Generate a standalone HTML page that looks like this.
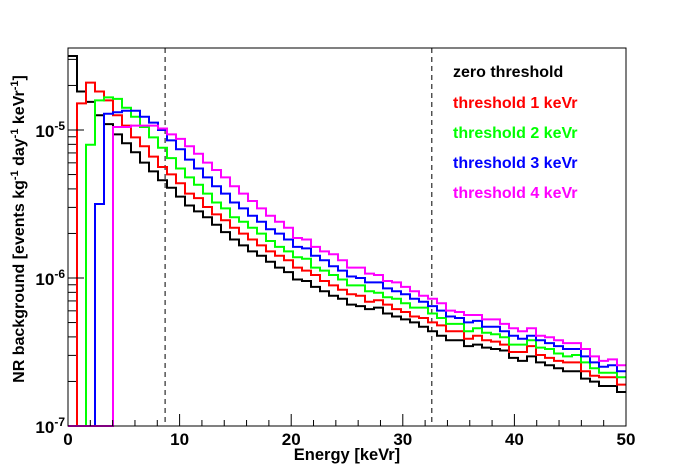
<!DOCTYPE html>
<html><head><meta charset="utf-8"><style>
html,body{margin:0;padding:0;background:#fff;}
svg{display:block;font-family:"Liberation Sans",Arial,sans-serif;}
</style></head><body>
<svg id="chart" width="696" height="472" viewBox="0 0 696 472">
<rect width="696" height="472" fill="#fff"/>
<g id="grid-lines"></g>
<g id="series"></g>
<g id="axes"></g>
<text x="8" y="0" transform="translate(24,237) rotate(-90)" text-anchor="middle" font-size="16" font-weight="bold">NR background [events kg<tspan dy="-6" font-size="11">-1</tspan><tspan dy="6"> day</tspan><tspan dy="-6" font-size="11">-1</tspan><tspan dy="6"> keVr</tspan><tspan dy="-6" font-size="11">-1</tspan><tspan dy="6">]</tspan></text>
<text x="347" y="460" text-anchor="middle" font-size="16.5" font-weight="bold">Energy [keVr]</text>
<g id="legend" font-size="16" font-weight="bold">
<text x="453" y="77" fill="#000">zero threshold</text>
<text x="453" y="108" fill="#ff0000">threshold 1 keVr</text>
<text x="453" y="138" fill="#00ff00">threshold 2 keVr</text>
<text x="453" y="168" fill="#0000ff">threshold 3 keVr</text>
<text x="453" y="198" fill="#ff00ff">threshold 4 keVr</text>
</g>
</svg>
<script>
// data: log10 of rate per bin (62 bins over 0-50 keVr); null = empty bin
const xMin = 0, xMax = 50, nBins = 62;
const xTicks = [0,10,20,30,40,50];
const yDecades = [-7,-6,-5];
const markerEnergies = [8.7, 32.6];
const logZero = [-4.50,-4.74,-4.81,-4.90,-4.96,-5.03,-5.09,-5.15,-5.22,-5.28,-5.34,-5.39,-5.45,-5.51,-5.55,-5.59,-5.64,-5.69,-5.74,-5.78,-5.82,-5.85,-5.89,-5.93,-5.96,-6.01,-6.02,-6.06,-6.09,-6.12,-6.14,-6.18,-6.19,-6.21,-6.20,-6.24,-6.26,-6.28,-6.30,-6.33,-6.36,-6.39,-6.42,-6.42,-6.46,-6.45,-6.47,-6.48,-6.49,-6.54,-6.56,-6.53,-6.57,-6.59,-6.61,-6.63,-6.63,-6.68,-6.70,-6.73,-6.73,-6.77];
const logThr1 = [null,-4.82,-4.68,-4.74,-4.80,-4.90,-4.97,-5.05,-5.11,-5.18,-5.25,-5.30,-5.36,-5.43,-5.46,-5.52,-5.57,-5.61,-5.66,-5.70,-5.74,-5.78,-5.82,-5.85,-5.88,-5.93,-5.95,-5.98,-6.02,-6.05,-6.08,-6.11,-6.12,-6.16,-6.15,-6.18,-6.21,-6.23,-6.26,-6.27,-6.30,-6.32,-6.36,-6.36,-6.41,-6.39,-6.42,-6.43,-6.45,-6.50,-6.50,-6.46,-6.52,-6.54,-6.56,-6.57,-6.57,-6.63,-6.66,-6.67,-6.67,-6.72];
const logThr2 = [null,null,-5.10,-4.80,-4.78,-4.79,-4.85,-4.91,-4.98,-5.05,-5.12,-5.19,-5.26,-5.32,-5.37,-5.43,-5.49,-5.53,-5.59,-5.62,-5.66,-5.70,-5.75,-5.79,-5.82,-5.86,-5.87,-5.93,-5.95,-5.98,-6.01,-6.05,-6.05,-6.09,-6.10,-6.13,-6.14,-6.17,-6.20,-6.20,-6.24,-6.27,-6.31,-6.31,-6.36,-6.34,-6.37,-6.38,-6.40,-6.45,-6.45,-6.42,-6.47,-6.48,-6.51,-6.53,-6.52,-6.57,-6.61,-6.64,-6.64,-6.67];
const logThr3 = [null,null,null,-5.50,-4.89,-4.88,-4.87,-4.87,-4.91,-4.95,-5.00,-5.07,-5.13,-5.20,-5.26,-5.32,-5.38,-5.43,-5.49,-5.53,-5.58,-5.62,-5.67,-5.70,-5.74,-5.79,-5.80,-5.85,-5.88,-5.92,-5.95,-5.99,-6.00,-6.03,-6.03,-6.07,-6.09,-6.11,-6.14,-6.16,-6.19,-6.22,-6.26,-6.27,-6.30,-6.29,-6.33,-6.33,-6.36,-6.39,-6.41,-6.39,-6.42,-6.44,-6.46,-6.48,-6.48,-6.53,-6.57,-6.60,-6.59,-6.63];
const logThr4 = [null,null,null,null,null,-4.98,-4.98,-4.97,-4.97,-4.97,-4.99,-5.03,-5.06,-5.11,-5.16,-5.22,-5.27,-5.32,-5.38,-5.43,-5.48,-5.53,-5.58,-5.62,-5.66,-5.73,-5.74,-5.79,-5.82,-5.84,-5.88,-5.93,-5.93,-5.97,-5.98,-6.02,-6.03,-6.06,-6.09,-6.12,-6.14,-6.17,-6.22,-6.23,-6.25,-6.25,-6.28,-6.28,-6.31,-6.34,-6.36,-6.34,-6.39,-6.40,-6.42,-6.44,-6.44,-6.48,-6.53,-6.56,-6.55,-6.59];

const NS='http://www.w3.org/2000/svg';
const PL=68, PR=626, PT=48, PB=426;
const yLogMin=-7, yPerDec=148;
function xPos(v){return PL+(v-xMin)/(xMax-xMin)*(PR-PL);}
function yPos(l){return Math.max(PT, Math.min(PB, PB-(l-yLogMin)*yPerDec));}
function mk(tag,attrs,parent){const e=document.createElementNS(NS,tag);for(const k in attrs)e.setAttribute(k,attrs[k]);parent.appendChild(e);return e;}

const axes=document.getElementById('axes');
const series=document.getElementById('series');
const gm=document.getElementById('grid-lines');

markerEnergies.forEach(function(E){
  const l=mk('line',{x1:xPos(E),x2:xPos(E),y1:PT,y2:PB,stroke:'#000','stroke-width':1,'stroke-dasharray':'5,4'},gm);
  
  
});

const seriesList=[[logZero,'#000000','zero-threshold'],[logThr1,'#ff0000','threshold-1'],[logThr2,'#00ff00','threshold-2'],[logThr3,'#0000ff','threshold-3'],[logThr4,'#ff00ff','threshold-4']];
const bw=(xMax-xMin)/nBins;
seriesList.forEach(function(s){
  const arr=s[0];let d='';
  for(let i=0;i<arr.length;i++){
    const y=arr[i]===null?PB:yPos(arr[i]);
    const x0=xPos(xMin+i*bw), x1=xPos(xMin+(i+1)*bw);
    d+=(i===0?'M':'L')+x0.toFixed(1)+','+y.toFixed(1)+'L'+x1.toFixed(1)+','+y.toFixed(1);
  }
  const p=mk('path',{d:d,fill:'none',stroke:s[1],'stroke-width':2,'stroke-linejoin':'miter'},series);
  
  
});

const frame=mk('rect',{x:PL,y:PT,width:PR-PL,height:PB-PT,fill:'none',stroke:'#000','stroke-width':1},axes);



for(let v=xMin;v<=xMax;v+=2){
  const major=(v%10===0);
  const t=mk('line',{x1:xPos(v),x2:xPos(v),y1:PB,y2:PB-(major?12:6),stroke:'#000','stroke-width':1},axes);
  
  
}
xTicks.forEach(function(v){
  const t=mk('text',{x:xPos(v),y:PB+19,'text-anchor':'middle','font-size':17,'font-weight':'bold'},axes);
  t.textContent=String(v);
  
  
});
for(let dec=-7;dec<-4;dec++){
  for(let m=1;m<=9;m++){
    const l=dec+Math.log10(m);
    const y=PB-(l-yLogMin)*yPerDec;
    if(y<PT)continue;
    const t=mk('line',{x1:PL,x2:PL+(m===1?16:8),y1:y,y2:y,stroke:'#000','stroke-width':1},axes);
    
    
  }
}
yDecades.forEach(function(dec){
  const y=yPos(dec);
  const t=mk('text',{x:PL-3,y:y+7,'text-anchor':'end','font-size':17,'font-weight':'bold'},axes);
  
  
  const a=mk('tspan',{},t);a.textContent='10';
  const b=mk('tspan',{dy:-7,'font-size':12},t);b.textContent=String(dec);
});
</script>
</body></html>
